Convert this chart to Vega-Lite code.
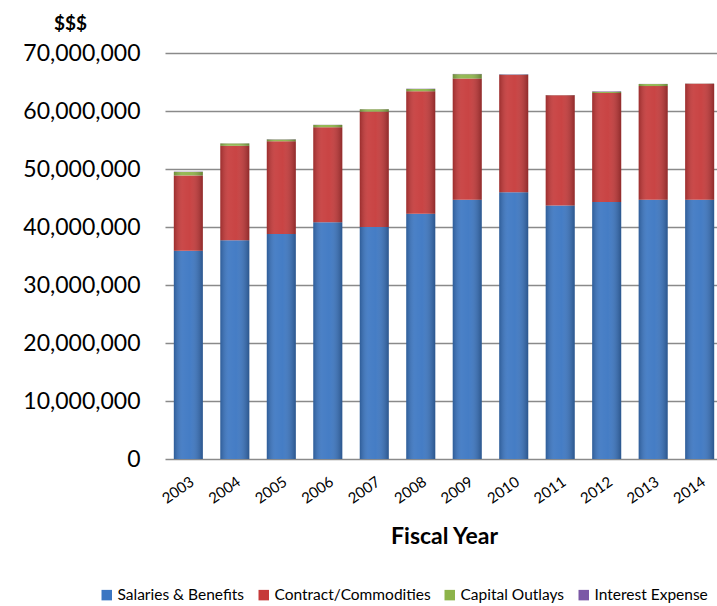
{
  "$schema": "https://vega.github.io/schema/vega-lite/v6.json",
  "autosize": {"type": "none"},
  "width": 558,
  "height": 406,
  "padding": {"left": 165, "top": 53, "right": 0, "bottom": 147},
  "config": {
    "font": "Lato",
    "view": {"stroke": null},
    "axis": {"labelColor": "#000000", "titleColor": "#000000"}
  },
  "data": {
    "values": [
      {"year": "2003", "cat": "Salaries & Benefits", "k": 1, "amount": 35900000},
      {"year": "2003", "cat": "Contract/Commodities", "k": 2, "amount": 13000000},
      {"year": "2003", "cat": "Capital Outlays", "k": 3, "amount": 600000},
      {"year": "2003", "cat": "Interest Expense", "k": 4, "amount": 40000},
      {"year": "2004", "cat": "Salaries & Benefits", "k": 1, "amount": 37700000},
      {"year": "2004", "cat": "Contract/Commodities", "k": 2, "amount": 16300000},
      {"year": "2004", "cat": "Capital Outlays", "k": 3, "amount": 400000},
      {"year": "2004", "cat": "Interest Expense", "k": 4, "amount": 20000},
      {"year": "2005", "cat": "Salaries & Benefits", "k": 1, "amount": 38800000},
      {"year": "2005", "cat": "Contract/Commodities", "k": 2, "amount": 16000000},
      {"year": "2005", "cat": "Capital Outlays", "k": 3, "amount": 300000},
      {"year": "2005", "cat": "Interest Expense", "k": 4, "amount": 20000},
      {"year": "2006", "cat": "Salaries & Benefits", "k": 1, "amount": 40800000},
      {"year": "2006", "cat": "Contract/Commodities", "k": 2, "amount": 16400000},
      {"year": "2006", "cat": "Capital Outlays", "k": 3, "amount": 400000},
      {"year": "2006", "cat": "Interest Expense", "k": 4, "amount": 20000},
      {"year": "2007", "cat": "Salaries & Benefits", "k": 1, "amount": 40000000},
      {"year": "2007", "cat": "Contract/Commodities", "k": 2, "amount": 19900000},
      {"year": "2007", "cat": "Capital Outlays", "k": 3, "amount": 400000},
      {"year": "2007", "cat": "Interest Expense", "k": 4, "amount": 20000},
      {"year": "2008", "cat": "Salaries & Benefits", "k": 1, "amount": 42300000},
      {"year": "2008", "cat": "Contract/Commodities", "k": 2, "amount": 21100000},
      {"year": "2008", "cat": "Capital Outlays", "k": 3, "amount": 400000},
      {"year": "2008", "cat": "Interest Expense", "k": 4, "amount": 20000},
      {"year": "2009", "cat": "Salaries & Benefits", "k": 1, "amount": 44700000},
      {"year": "2009", "cat": "Contract/Commodities", "k": 2, "amount": 20900000},
      {"year": "2009", "cat": "Capital Outlays", "k": 3, "amount": 750000},
      {"year": "2009", "cat": "Interest Expense", "k": 4, "amount": 40000},
      {"year": "2010", "cat": "Salaries & Benefits", "k": 1, "amount": 46000000},
      {"year": "2010", "cat": "Contract/Commodities", "k": 2, "amount": 20200000},
      {"year": "2010", "cat": "Capital Outlays", "k": 3, "amount": 50000},
      {"year": "2010", "cat": "Interest Expense", "k": 4, "amount": 80000},
      {"year": "2011", "cat": "Salaries & Benefits", "k": 1, "amount": 43700000},
      {"year": "2011", "cat": "Contract/Commodities", "k": 2, "amount": 19000000},
      {"year": "2011", "cat": "Capital Outlays", "k": 3, "amount": 20000},
      {"year": "2011", "cat": "Interest Expense", "k": 4, "amount": 20000},
      {"year": "2012", "cat": "Salaries & Benefits", "k": 1, "amount": 44300000},
      {"year": "2012", "cat": "Contract/Commodities", "k": 2, "amount": 18800000},
      {"year": "2012", "cat": "Capital Outlays", "k": 3, "amount": 200000},
      {"year": "2012", "cat": "Interest Expense", "k": 4, "amount": 80000},
      {"year": "2013", "cat": "Salaries & Benefits", "k": 1, "amount": 44700000},
      {"year": "2013", "cat": "Contract/Commodities", "k": 2, "amount": 19600000},
      {"year": "2013", "cat": "Capital Outlays", "k": 3, "amount": 350000},
      {"year": "2013", "cat": "Interest Expense", "k": 4, "amount": 20000},
      {"year": "2014", "cat": "Salaries & Benefits", "k": 1, "amount": 44700000},
      {"year": "2014", "cat": "Contract/Commodities", "k": 2, "amount": 20000000},
      {"year": "2014", "cat": "Capital Outlays", "k": 3, "amount": 20000},
      {"year": "2014", "cat": "Interest Expense", "k": 4, "amount": 20000}
    ]
  },
  "encoding": {
    "x": {
      "field": "year", "type": "ordinal",
      "scale": {"paddingInner": 0.376, "paddingOuter": 0.19},
      "axis": {
        "title": "Fiscal Year", "titleFontSize": 23, "titleFontWeight": "bold", "titlePadding": 19,
        "labelAngle": -35, "labelFontSize": 15, "labelPadding": 15,
        "ticks": false, "domain": false, "grid": false
      }
    },
    "y": {
      "field": "amount", "type": "quantitative", "stack": "zero",
      "scale": {"domain": [0, 70000000], "nice": false},
      "axis": {
        "values": [0, 10000000, 20000000, 30000000, 40000000, 50000000, 60000000, 70000000],
        "format": ",d", "labelFontSize": 23, "labelPadding": 25,
        "ticks": false, "domain": false,
        "gridColor": "#8a8a8a", "gridWidth": 1.6,
        "title": "$$$", "titleAngle": 0, "titleAlign": "center", "titleBaseline": "alphabetic",
        "titleX": -95, "titleY": -24, "titleFontSize": 19, "titleFontWeight": "bold"
      }
    },
    "order": {"field": "k", "type": "quantitative"}
  },
  "layer": [
    {
      "mark": {"type": "bar"},
      "encoding": {
        "color": {
          "field": "cat", "type": "nominal",
          "scale": {
            "domain": ["Salaries & Benefits", "Contract/Commodities", "Capital Outlays", "Interest Expense"],
            "range": ["#3b76c2", "#c63a3a", "#8db44a", "#7b58a6"]
          },
          "legend": {
            "title": null, "orient": "none", "direction": "horizontal", "columns": 4,
            "legendX": -66, "legendY": 534,
            "symbolType": "square", "symbolSize": 110, "symbolStrokeWidth": 0,
            "labelFontSize": 15.5, "labelOffset": 3, "columnPadding": 11, "labelColor": "#000000"
          }
        }
      }
    },
    {
      "mark": {
        "type": "bar",
        "color": {
          "gradient": "linear", "x1": 0, "x2": 1, "y1": 0, "y2": 0,
          "stops": [
            {"offset": 0, "color": "rgba(0,0,0,0.22)"},
            {"offset": 0.3, "color": "rgba(255,255,255,0.08)"},
            {"offset": 0.55, "color": "rgba(255,255,255,0.05)"},
            {"offset": 1, "color": "rgba(0,0,0,0.28)"}
          ]
        }
      },
      "encoding": {"detail": {"field": "cat", "type": "nominal"}}
    }
  ]
}
